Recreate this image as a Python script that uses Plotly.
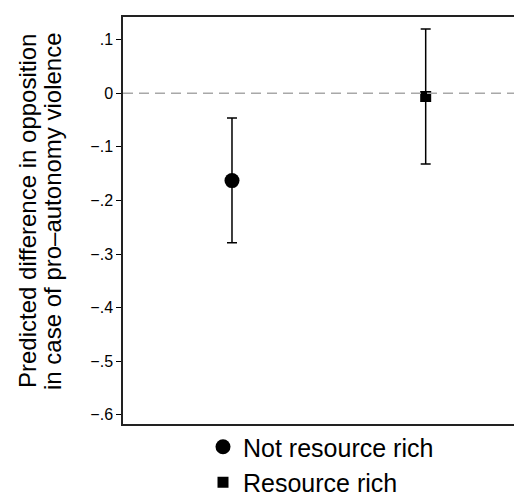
import plotly.graph_objects as go

groups = ["Not resource rich", "Resource rich"]
positions = [1, 2]
estimates = [-0.163, -0.006]
ci_upper = [-0.046, 0.120]
ci_lower = [-0.279, -0.132]
symbols = ["circle", "square"]
marker_sizes = [15, 11]
tick_vals = [0.1, 0, -0.1, -0.2, -0.3, -0.4, -0.5, -0.6]
tick_text = [".1", "0", "\u2212.1", "\u2212.2", "\u2212.3", "\u2212.4", "\u2212.5", "\u2212.6"]
title_lines = ["Predicted difference in opposition", "in case of pro\u2013autonomy violence"]

FONT = "Liberation Sans, Arial, Helvetica, sans-serif"

W, H = 522, 502
ML, MR, MT, MB = 115, 0, 9, 86
PW = W - ML - MR
PH = H - MT - MB

fig = go.Figure()
for g, x, e, up, lo, sym, ms in zip(groups, positions, estimates, ci_upper, ci_lower, symbols, marker_sizes):
    fig.add_trace(go.Scatter(
        x=[x], y=[e], mode="markers", name=g,
        marker=dict(symbol=sym, size=ms, color="black"),
        error_y=dict(type="data", symmetric=False, array=[up - e], arrayminus=[e - lo],
                     color="black", thickness=1.5, width=5),
    ))

fig.add_hline(y=0, line=dict(color="#a8a8a8", width=1.5, dash="10px,6px"))

# two-line y-axis title (tight line spacing)
for px, line in zip([20, 45], title_lines):
    fig.add_annotation(
        text=line, textangle=-90, xref="paper", yref="paper",
        x=(px - ML) / PW, y=(H - MB - 203) / PH, xanchor="center", yanchor="middle",
        showarrow=False, font=dict(size=24, family=FONT, color="black"),
    )

fig.update_layout(
    width=W, height=H,
    margin=dict(l=ML, r=MR, t=MT, b=MB, autoexpand=False),
    paper_bgcolor="white", plot_bgcolor="white",
    font=dict(family=FONT, color="black"),
    showlegend=True,
    legend=dict(orientation="v", x=(195 - ML) / PW, xanchor="left", y=0.0, yanchor="top",
                font=dict(size=25, family=FONT), tracegroupgap=0, itemsizing="trace",
                bgcolor="rgba(0,0,0,0)"),
    xaxis=dict(range=[0.4373, 2.5385], showgrid=False, zeroline=False, showticklabels=False,
               ticks="", showline=True, linecolor="#222", linewidth=1.5, mirror=True),
    yaxis=dict(range=[-0.6173, 0.1424], showgrid=False, zeroline=False,
               tickvals=tick_vals, ticktext=tick_text, ticks="outside", ticklen=5,
               tickwidth=1, tickcolor="black", tickfont=dict(size=16, family=FONT),
               showline=True, linecolor="#222", linewidth=1.5),
)

fig.write_html("out.html")
